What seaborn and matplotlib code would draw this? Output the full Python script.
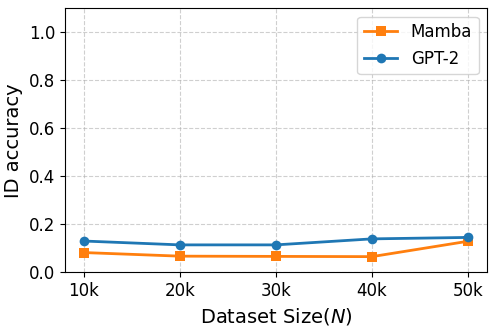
import numpy as np
import pandas as pd
import matplotlib
matplotlib.use("Agg")
import matplotlib.pyplot as plt
import seaborn as sns

# dataset sizes and ID accuracy per model
sizes = ["10k", "20k", "30k", "40k", "50k"]
mamba_acc = [0.082, 0.067, 0.066, 0.065, 0.129]
gpt2_acc = [0.130, 0.114, 0.114, 0.139, 0.145]

df = pd.DataFrame({
    "pos": list(range(len(sizes))) * 2,
    "acc": mamba_acc + gpt2_acc,
    "model": ["Mamba"] * len(sizes) + ["GPT-2"] * len(sizes),
})

fig, ax = plt.subplots(figsize=(4.98, 3.28), dpi=100)
palette = {"Mamba": "#ff7f0e", "GPT-2": "#1f77b4"}
markers = {"Mamba": "s", "GPT-2": "o"}

for name in ["Mamba", "GPT-2"]:
    sub = df[df["model"] == name]
    sns.lineplot(data=sub, x="pos", y="acc", ax=ax, color=palette[name],
                 marker=markers[name], markersize=7, linewidth=2,
                 markeredgewidth=0, label=name)

ax.set_xticks(range(len(sizes)))
ax.set_xticklabels(sizes)
ax.set_ylim(0, 1.1)
ax.set_yticks(np.arange(0, 1.01, 0.2))
ax.tick_params(labelsize=12)
ax.set_xlabel("Dataset Size($N$)", fontsize=14)
ax.set_ylabel("ID accuracy", fontsize=14)
ax.grid(True, linestyle="--", alpha=0.6)
ax.legend(loc="upper right", fontsize=12)

plt.subplots_adjust(left=0.13, right=0.978, top=0.975, bottom=0.17)
plt.savefig("out.png", dpi=100)
